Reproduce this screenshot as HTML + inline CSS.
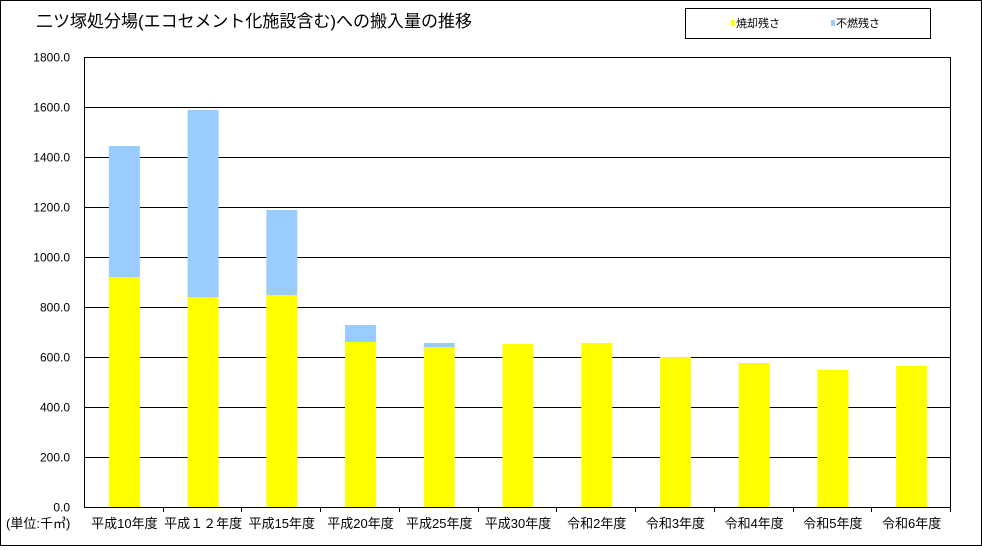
<!DOCTYPE html>
<html><head><meta charset="utf-8"><style>
body{margin:0;background:#fff}
svg text{font-family:"Liberation Sans","Noto Sans CJK JP",sans-serif}
</style></head><body>
<svg width="982" height="546" xmlns="http://www.w3.org/2000/svg">
<rect x="0.5" y="0.5" width="981" height="545" fill="#fff" stroke="#000"/>
<text x="36" y="27" font-size="17" fill="#000">二ツ塚処分場(エコセメント化施設含む)への搬入量の推移</text>
<g>
<rect x="685.5" y="8.5" width="245" height="30" fill="#fff" stroke="#000"/>
<rect x="731" y="20" width="4" height="6" fill="#ffff00"/>
<text x="736" y="27" font-size="11">焼却残さ</text>
<rect x="831" y="20" width="4" height="6" fill="#99ccff"/>
<text x="836" y="27" font-size="11">不燃残さ</text>
</g>
<g id="grid"></g>
<g id="bars"></g>
<g id="axes"></g>
<text x="6" y="528" font-size="13">(単位:千㎥)</text>
</svg>
<script>
const categories=["平成10年度","平成１２年度","平成15年度","平成20年度","平成25年度","平成30年度","令和2年度","令和3年度","令和4年度","令和5年度","令和6年度"];
const incinerated=[920,840,848,660,640,652,656,600,576,548,564];
const noncombustible=[524,748,340,68,16,0,0,0,0,0,0];
const yTicks=[0,200,400,600,800,1000,1200,1400,1600,1800];
const NS="http://www.w3.org/2000/svg";
const L=84,R=950,T=57,B=507,ymax=1800;
const y=v=>B-(v/ymax)*(B-T);
const cw=(R-L)/categories.length;
const xc=i=>L+cw*(i+0.5)+1;
function mk(tag,attrs,parent){const e=document.createElementNS(NS,tag);for(const k in attrs)e.setAttribute(k,attrs[k]);parent.appendChild(e);return e;}
const grid=document.getElementById('grid'),bars=document.getElementById('bars'),axes=document.getElementById('axes');
yTicks.forEach(v=>{
  const yy=Math.round(y(v))+0.5;
  const ln=mk('line',{x1:L,x2:R,y1:yy,y2:yy,stroke:'#000','stroke-width':1},grid);
  
  
  const t=mk('text',{x:L-14,y:yy+4,'font-size':12,'text-anchor':'end'},axes);
  t.textContent=v.toFixed(1);
  
  
});
categories.forEach((c,i)=>{
  const bw=31,x0=xc(i)-bw/2;
  const r1=mk('rect',{x:x0,y:y(incinerated[i]),width:bw,height:B-y(incinerated[i]),fill:'#ffff00'},bars);
  
  
  if(noncombustible[i]>0){
    const top=incinerated[i]+noncombustible[i];
    const r2=mk('rect',{x:x0,y:y(top),width:bw,height:y(incinerated[i])-y(top),fill:'#99ccff'},bars);
    
    
  }
  const t=mk('text',{x:xc(i),y:528,'font-size':13,'text-anchor':'middle'},axes);
  t.textContent=c;
  
  
  const tk=mk('line',{x1:Math.round(L+cw*(i+1))+0.5,x2:Math.round(L+cw*(i+1))+0.5,y1:B,y2:B+5,stroke:'#000'},axes);
  
  
});
mk('rect',{x:L+0.5,y:T+0.5,width:R-L,height:B-T,fill:'none',stroke:'#000'},axes);
</script>
</body></html>
